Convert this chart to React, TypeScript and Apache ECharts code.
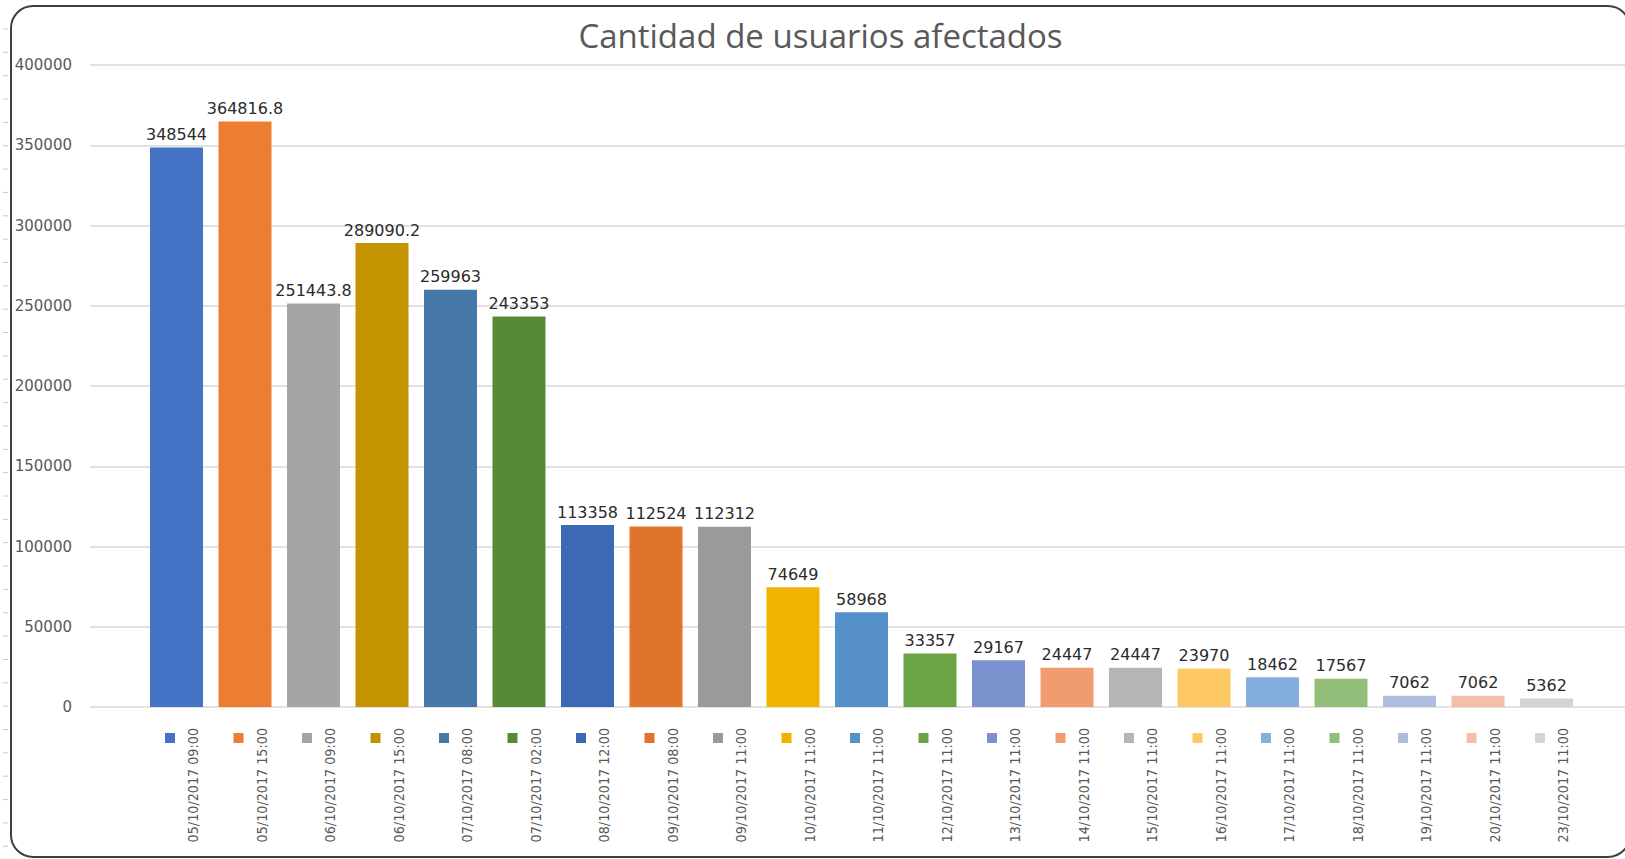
import React, { useEffect, useRef } from "react";
import * as echarts from "echarts";

const titleText = "Cantidad de usuarios afectados";

const categories = [
  "05/10/2017 09:00", "05/10/2017 15:00", "06/10/2017 09:00", "06/10/2017 15:00",
  "07/10/2017 08:00", "07/10/2017 02:00", "08/10/2017 12:00", "09/10/2017 08:00",
  "09/10/2017 11:00", "10/10/2017 11:00", "11/10/2017 11:00", "12/10/2017 11:00",
  "13/10/2017 11:00", "14/10/2017 11:00", "15/10/2017 11:00", "16/10/2017 11:00",
  "17/10/2017 11:00", "18/10/2017 11:00", "19/10/2017 11:00", "20/10/2017 11:00",
  "23/10/2017 11:00",
];

const values = [
  348544, 364816.8, 251443.8, 289090.2, 259963, 243353, 113358, 112524, 112312,
  74649, 58968, 33357, 29167, 24447, 24447, 23970, 18462, 17567, 7062, 7062, 5362,
];

const barColors = [
  "#4472C4", "#ED7D31", "#A5A5A5", "#C49300", "#4678A8", "#558B37",
  "#3C69B5", "#E0742D", "#9A9A9A", "#F0B300", "#5690C8", "#6AA545",
  "#7B92CE", "#F19B71", "#B6B6B6", "#FEC964", "#84AEDC", "#93BE79",
  "#AEBCE0", "#F4BFA8", "#D4D4D4",
];

const yMin = 0;
const yMax = 400000;
const yInterval = 50000;

export default function App() {
  const ref = useRef<HTMLDivElement>(null);

  useEffect(() => {
    if (!ref.current) return;
    const chart = echarts.init(ref.current, null, { renderer: "svg" });

    const rich: Record<string, any> = {};
    barColors.forEach((c, i) => {
      rich["s" + i] = { width: 10, height: 10, backgroundColor: c };
    });

    const leftDashes: any[] = [];
    for (let k = 0; k < 36; k++) {
      const y = 29 + k * 23.35;
      if (y > 850) break;
      leftDashes.push({
        type: "line",
        silent: true,
        shape: { x1: 3, y1: y, x2: 8, y2: y },
        style: { stroke: "#c8c8c8", lineWidth: 1 },
      });
    }

    const gridBase = { top: 65, height: 642, outerBoundsMode: "none", containLabel: false };

    chart.setOption({
      animation: false,
      backgroundColor: "#ffffff",
      title: {
        text: titleText,
        left: "center",
        top: 14,
        textStyle: {
          fontFamily: "Open Sans",
          fontSize: 33,
          fontWeight: "normal",
          color: "#595959",
        },
      },
      graphic: [
        {
          type: "rect",
          silent: true,
          shape: { x: 11, y: 6, width: 1619, height: 851, r: 22 },
          style: { fill: "none", stroke: "#404040", lineWidth: 2 },
        },
        ...leftDashes,
      ],
      grid: [
        { ...gridBase, left: 90, width: 1545 },
        { ...gridBase, left: 142.25, width: 1438.5 },
        { ...gridBase, left: 158.75, width: 1438.5 },
      ],
      xAxis: [
        { gridIndex: 0, type: "category", data: [""], show: false },
        {
          gridIndex: 1,
          type: "category",
          data: categories,
          position: "bottom",
          axisLine: { show: false },
          axisTick: { show: false },
          axisLabel: {
            interval: 0,
            margin: 26,
            padding: [0, 13, 0, 0],
            formatter: (_v: string, i: number) => `{s${i}| }`,
            rich,
          },
        },
        {
          gridIndex: 2,
          type: "category",
          data: categories,
          position: "bottom",
          axisLine: { show: false },
          axisTick: { show: false },
          axisLabel: {
            interval: 0,
            rotate: 90,
            margin: 21,
            fontFamily: '"Liberation Sans Narrow", "DejaVu Sans Condensed", sans-serif',
            fontSize: 14.2,
            color: "#595959",
          },
        },
      ],
      yAxis: [
        {
          gridIndex: 0,
          type: "value",
          min: yMin,
          max: yMax,
          interval: yInterval,
          axisLine: { show: false },
          axisTick: { show: false },
          splitLine: { lineStyle: { color: "#D9D9D9", width: 1.5 } },
          axisLabel: {
            margin: 18,
            color: "#595959",
            fontFamily: "DejaVu Sans",
            fontSize: 15,
            formatter: (v: number) => String(v),
          },
        },
        { gridIndex: 1, type: "value", min: yMin, max: yMax, show: false },
        { gridIndex: 2, type: "value", min: yMin, max: yMax, show: false },
      ],
      series: [
        { type: "bar", xAxisIndex: 0, yAxisIndex: 0, data: [] },
        {
          type: "bar",
          xAxisIndex: 1,
          yAxisIndex: 1,
          barWidth: 53,
          data: values.map((v, i) => ({ value: v, itemStyle: { color: barColors[i] } })),
          label: {
            show: true,
            position: "top",
            distance: 5,
            color: "#2b2b2b",
            fontFamily: "DejaVu Sans",
            fontSize: 16,
          },
        },
        { type: "bar", xAxisIndex: 2, yAxisIndex: 2, data: [] },
      ],
    });

    return () => chart.dispose();
  }, []);

  return (
    <div
      ref={ref}
      style={{ position: "fixed", left: 0, top: 0, width: 1641, height: 859, background: "#fff" }}
    />
  );
}
